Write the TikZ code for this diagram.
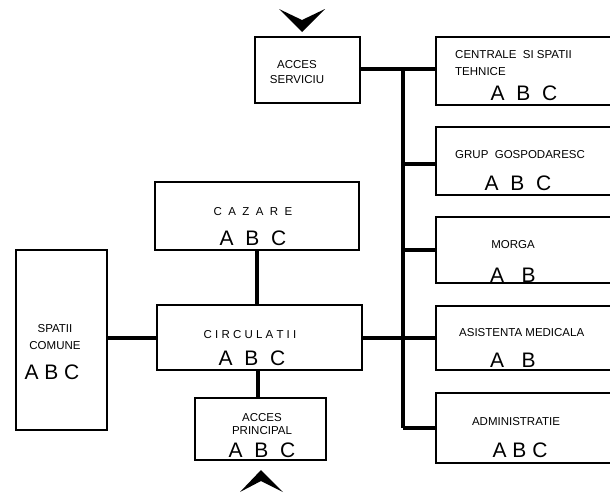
\documentclass[tikz,border=0pt]{standalone}
\usepackage{fontspec}
\setmainfont{Liberation Sans}
\begin{document}
\begin{tikzpicture}[x=1pt,y=-1pt,
  box/.style={draw=black,line width=1.5pt},
  link/.style={draw=black,line width=4pt},
  lbl/.style={font=\fontsize{11.5}{13}\selectfont,inner sep=0pt,align=center},
  abc/.style={font=\fontsize{21}{22}\selectfont,inner sep=0pt}]
\useasboundingbox (0,0) rectangle (610,493);
% boxes
\draw[box] (255,37) rectangle (360,103);
\draw[box] (155,182) rectangle (359,250);
\draw[box] (157,305) rectangle (362,370);
\draw[box] (16,250) rectangle (107,430);
\draw[box] (195,398) rectangle (326,460);
% right-side boxes (open towards the right edge)
\foreach \t/\b in {37/105,127/195,217/283,306/370,393/463}{
  \draw[box] (610,\t) -- (436,\t) -- (436,\b) -- (610,\b);
}
% coordinates for connectors
\coordinate (busT) at (403,69);
\coordinate (busB) at (403,428);
% connectors
\draw[link] (360,69) -- (436,69);
\draw[link] (busT) -- (busB);
\draw[link] (403,164) -- (436,164);
\draw[link] (403,250) -- (436,250);
\draw[link] (362,338) -- (436,338);
\draw[link] (403,428) -- (436,428);
\draw[link] (257,250) -- (257,305);
\draw[link] (107,338) -- (157,338);
\draw[link] (258,370) -- (258,398);
% chevrons
\fill (279,9) -- (302,20) -- (325,9) -- (302,32) -- cycle;
\fill (240,492) -- (261,481) -- (283,492) -- (261,470) -- cycle;
% labels
\node[lbl] (as) at (297,72) {ACCES\\[2pt]SERVICIU};
\node[lbl,anchor=west] (ce1) at (455,55) {CENTRALE\ \ SI SPATII};
\node[lbl,anchor=west] (ce2) at (455,72) {TEHNICE};
\node[abc] (ce3) at (524,93) {A\ \ B\ \ C};
\node[lbl,anchor=west] (gr1) at (455,155) {GRUP\ \ GOSPODARESC};
\node[abc] (gr2) at (518,183) {A\ \ B\ \ C};
\node[lbl] (mo1) at (513,245) {MORGA};
\node[abc] (mo2) at (513,275) {A\ \ \ B};
\node[lbl,anchor=west] (am1) at (459,333) {ASISTENTA\ MEDICALA};
\node[abc] (am2) at (513,360) {A\ \ \ B};
\node[lbl] (ad1) at (516,422) {ADMINISTRATIE};
\node[abc] (ad2) at (520,450) {A\ B\ C};
\node[lbl] (cz1) at (253,212) {C\ \ A\ \ Z\ \ A\ \ R\ \ E};
\node[abc] (cz2) at (253,238) {A\ \ B\ \ C};
\node[lbl] (ci1) at (250,335) {C\ I\ R\ C\ U\ L\ A\ T\ I\ I};
\node[abc] (ci2) at (252,358) {A\ \ B\ \ C};
\node[lbl] (sc1) at (55,337) {SPATII\\[4pt]COMUNE};
\node[abc] (sc2) at (52,372) {A\ B\ C};
\node[lbl] (ap1) at (262,424) {ACCES\\PRINCIPAL};
\node[abc] (ap2) at (262,450) {A\ \ B\ \ C};
\end{tikzpicture}
\end{document}
